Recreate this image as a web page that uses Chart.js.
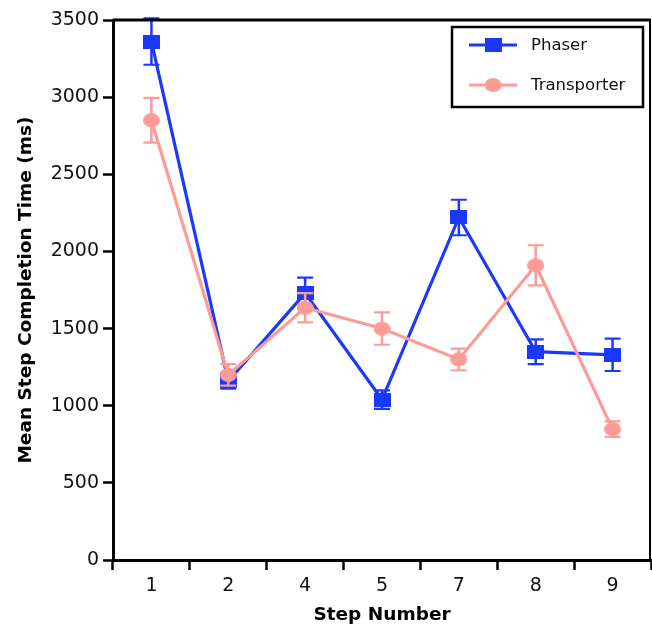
<!DOCTYPE html>
<html>
<head>
<meta charset="utf-8">
<style>
  html, body { margin: 0; padding: 0; background: #ffffff; }
  canvas { display: block; }
</style>
<script src="https://cdn.jsdelivr.net/npm/chart.js@4.4.1/dist/chart.umd.min.js"></script>
</head>
<body>
<canvas id="chart" width="652" height="628"></canvas>
<script>
// Step numbers on the x axis
const steps = ['1', '2', '4', '5', '7', '8', '9'];

// Mean completion time (ms) and its error for each step
const phaserMean = [3360, 1160, 1730, 1040, 2220, 1350, 1330];
const phaserErr = [150, 50, 100, 60, 115, 80, 105];
const transporterMean = [2850, 1200, 1635, 1500, 1300, 1910, 848];
const transporterErr = [145, 70, 95, 105, 70, 130, 50];

// Y axis range and step
const yMin = 0;
const yMax = 3500;
const yStep = 500;

const FONT = "'DejaVu Sans', 'Liberation Sans', sans-serif";
const BLUE = '#1b38ff';
const PINK = '#fd9b96';

// Slightly wide markers (square and ellipse) drawn on small canvases
function makeMarker(shape, color, w, h) {
  const c = document.createElement('canvas');
  c.width = w; c.height = h;
  const g = c.getContext('2d');
  g.fillStyle = color;
  if (shape === 'square') {
    g.fillRect(0, 0, w, h);
  } else {
    g.beginPath();
    g.ellipse(w / 2, h / 2, w / 2, h / 2, 0, 0, Math.PI * 2);
    g.fill();
  }
  return c;
}
const squareMarker = makeMarker('square', BLUE, 17, 14);
const circleMarker = makeMarker('circle', PINK, 17, 14);

// Vertical error bars with caps, drawn just under each dataset's line
const errorBars = {
  id: 'errorBars',
  beforeDatasetDraw(chart, args) {
    const ds = chart.data.datasets[args.index];
    if (!ds.errors) return;
    const ctx = chart.ctx;
    const ys = chart.scales.y;
    ctx.save();
    ctx.strokeStyle = ds.borderColor;
    args.meta.data.forEach((pt, i) => {
      const v = ds.data[i];
      const e = ds.errors[i];
      const top = ys.getPixelForValue(v + e);
      const bot = ys.getPixelForValue(v - e);
      const x = pt.x;
      ctx.lineWidth = 2.5;
      ctx.beginPath();
      ctx.moveTo(x, top);
      ctx.lineTo(x, bot);
      ctx.stroke();
      ctx.lineWidth = 2.2;
      ctx.beginPath();
      ctx.moveTo(x - 8, top); ctx.lineTo(x + 8, top);
      ctx.moveTo(x - 8, bot); ctx.lineTo(x + 8, bot);
      ctx.stroke();
    });
    ctx.restore();
  }
};

// Top and right frame lines plus the boxed legend
const frameAndLegend = {
  id: 'frameAndLegend',
  afterDraw(chart) {
    const ctx = chart.ctx;
    const a = chart.chartArea;
    ctx.save();
    ctx.strokeStyle = '#000';
    ctx.lineWidth = 3;
    ctx.beginPath();
    ctx.moveTo(a.left, a.top);
    ctx.lineTo(a.right, a.top);
    ctx.stroke();
    ctx.lineWidth = 2;
    ctx.beginPath();
    ctx.moveTo(a.right - 1, a.top);
    ctx.lineTo(a.right - 1, a.bottom);
    ctx.stroke();

    // legend box
    const bx = 452, by = 27, bw = 191, bh = 80;
    ctx.fillStyle = '#fff';
    ctx.fillRect(bx, by, bw, bh);
    ctx.lineWidth = 2.5;
    ctx.strokeRect(bx, by, bw, bh);

    const entries = chart.data.datasets;
    const rowY = [45, 85];
    entries.forEach((ds, i) => {
      const y = rowY[i];
      ctx.strokeStyle = ds.borderColor;
      ctx.lineWidth = 3;
      ctx.beginPath();
      ctx.moveTo(469, y);
      ctx.lineTo(517, y);
      ctx.stroke();
      const m = ds.pointStyle;
      ctx.drawImage(m, 493 - m.width / 2, y - m.height / 2);
      ctx.fillStyle = '#111';
      ctx.font = '16.5px ' + FONT;
      ctx.textBaseline = 'middle';
      ctx.textAlign = 'left';
      ctx.fillText(ds.label, 531, y + 1);
    });
    ctx.restore();
  }
};

new Chart(document.getElementById('chart'), {
  type: 'line',
  data: {
    labels: steps,
    datasets: [
      {
        label: 'Phaser',
        data: phaserMean,
        errors: phaserErr,
        borderColor: BLUE,
        backgroundColor: BLUE,
        borderWidth: 3.2,
        pointStyle: squareMarker,
        pointRadius: 8,
        tension: 0,
        order: 1
      },
      {
        label: 'Transporter',
        data: transporterMean,
        errors: transporterErr,
        borderColor: PINK,
        backgroundColor: PINK,
        borderWidth: 3.2,
        pointStyle: circleMarker,
        pointRadius: 8,
        tension: 0,
        order: 0
      }
    ]
  },
  options: {
    responsive: false,
    animation: false,
    devicePixelRatio: 1,
    layout: { autoPadding: false, padding: { top: 20, right: 1, left: 0, bottom: 0 } },
    plugins: {
      legend: { display: false },
      tooltip: { enabled: false }
    },
    scales: {
      x: {
        type: 'category',
        offset: true,
        grid: {
          display: true,
          offset: true,
          drawOnChartArea: false,
          drawTicks: true,
          tickLength: 10,
          tickWidth: 2.5,
          tickColor: '#000'
        },
        border: { display: true, color: '#000', width: 3 },
        ticks: {
          color: '#111',
          font: { family: FONT, size: 19 },
          padding: 5,
          maxRotation: 0
        },
        title: {
          display: true,
          text: 'Step Number',
          color: '#000',
          font: { family: FONT, size: 18.5, weight: 'bold', lineHeight: 1 },
          padding: { top: 4, bottom: 4 }
        },
        afterFit(scale) {
          scale.height = 68;
          scale.paddingLeft = 0;
          scale.paddingRight = 0;
        }
      },
      y: {
        min: yMin,
        max: yMax,
        grid: {
          display: true,
          drawOnChartArea: false,
          drawTicks: true,
          tickLength: 10,
          tickWidth: 2.5,
          tickColor: '#000'
        },
        border: { display: true, color: '#000', width: 3 },
        ticks: {
          stepSize: yStep,
          color: '#111',
          font: { family: FONT, size: 19 },
          padding: 4,
          callback: (v) => String(v)
        },
        title: {
          display: true,
          text: 'Mean Step Completion Time (ms)',
          color: '#000',
          font: { family: FONT, size: 18.5, weight: 'bold', lineHeight: 1 },
          padding: { top: 17, bottom: 0 }
        },
        afterFit(scale) {
          scale.width = 113;
          scale.paddingTop = 0;
          scale.paddingBottom = 0;
        }
      }
    }
  },
  plugins: [errorBars, frameAndLegend]
});
</script>
</body>
</html>
